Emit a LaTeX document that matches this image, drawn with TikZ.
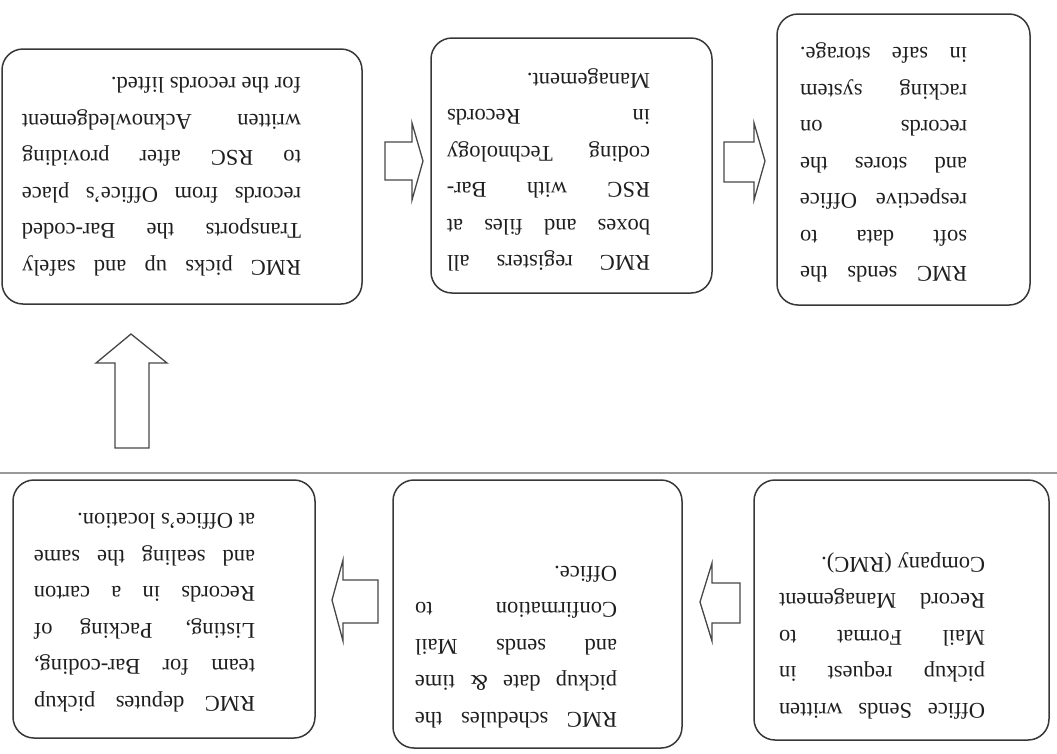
\documentclass[tikz,border=0pt]{standalone}
\usepackage{fontspec}
\setmainfont{Liberation Serif}
\newcommand\J[1]{{\spaceskip=0pt\xspaceskip=0pt\makebox[\linewidth][s]{#1}}\par}
\newcommand\Last[1]{{\spaceskip=0pt\xspaceskip=0pt\makebox[\linewidth][l]{#1}}\par}
\newenvironment{tblock}[1]{\begin{minipage}{#1}\fontsize{22.5}{36.5}\selectfont\parindent=0pt\parskip=0pt}{\end{minipage}}
\tikzset{
  box/.style={draw=black!78, line width=1.5pt, rounded corners=21pt, inner sep=0pt},
  txt/.style={rotate=180, inner sep=0pt, text=black!88},
  blockarrow/.style={draw=black!72, line width=1.3pt, fill=white, line join=miter},
  pagerule/.style={draw=black!40, line width=2pt}
}
\begin{document}
\begin{tikzpicture}[x=1pt,y=-1pt]
\useasboundingbox[fill=white] (0,0) rectangle (1057,753);
% page rule
\draw[pagerule] (0,473) -- (1057,473);
% boxes
\node[box, minimum width=360pt, minimum height=255pt] (A) at (182,176.5) {};
\node[box, minimum width=281pt, minimum height=255pt] (B) at (571.5,165.5) {};
\node[box, minimum width=253pt, minimum height=291pt] (C) at (903.5,159.5) {};
\node[box, minimum width=302pt, minimum height=258pt] (D) at (164,609) {};
\node[box, minimum width=289pt, minimum height=268pt] (E) at (537.5,614) {};
\node[box, minimum width=295pt, minimum height=260pt] (F) at (901.5,610) {};
% texts
\node[txt] (At) at (161.5,177) {\begin{tblock}{279pt}\J{RMC picks up and safely}\J{Transports the Bar-coded}\J{records from Office's place}\J{to RSC after providing}\J{written Acknowledgement}\Last{for the records lifted.}\end{tblock}};
\node[txt] (Bt) at (548.5,170) {\begin{tblock}{203pt}\J{RMC registers all}\J{boxes and files at}\J{RSC with Bar-}\J{coding Technology}\J{in Records}\Last{Management.}\end{tblock}};
\node[txt] (Ct) at (883.5,162.5) {\begin{tblock}{167pt}\J{RMC sends the}\J{soft data to}\J{respective Office}\J{and stores the}\J{records on}\J{racking system}\J{in safe storage.}\end{tblock}};
\node[txt] (Dt) at (144.5,612.5) {\begin{tblock}{221pt}\J{RMC deputes pickup}\J{team for Bar-coding,}\J{Listing, Packing of}\J{Records in a carton}\J{and sealing the same}\Last{at Office's location.}\end{tblock}};
\node[txt] (Et) at (516,647) {\begin{tblock}{202pt}\J{RMC schedules the}\J{pickup date \& time}\J{and sends Mail}\J{Confirmation to}\Last{Office.}\end{tblock}};
\node[txt] (Ft) at (882,635.5) {\begin{tblock}{206pt}\J{Office Sends written}\J{pickup request in}\J{Mail Format to}\J{Record Management}\Last{Company (RMC).}\end{tblock}};
% block arrows
\draw[blockarrow] (385,142) -- (412,142) -- (412,123) -- (423,161) -- (412,200) -- (412,180) -- (385,180) -- cycle;
\draw[blockarrow] (724,142) -- (754,142) -- (754,123) -- (765,161) -- (754,200) -- (754,182) -- (724,182) -- cycle;
\draw[blockarrow] (115,448) -- (115,363) -- (96,363) -- (131,334) -- (167,363) -- (149,363) -- (149,448) -- cycle;
\draw[blockarrow] (378,580) -- (343,580) -- (343,560) -- (332,600) -- (343,641) -- (343,623) -- (378,623) -- cycle;
\draw[blockarrow] (740,583) -- (712,583) -- (712,563) -- (700,602) -- (712,641) -- (712,623) -- (740,623) -- cycle;
\end{tikzpicture}
\end{document}
